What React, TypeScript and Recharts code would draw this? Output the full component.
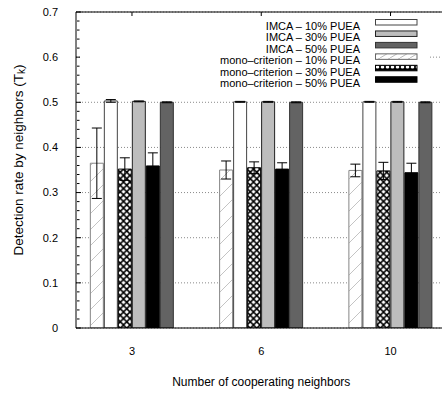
import { BarChart, Bar, XAxis, YAxis, CartesianGrid, ErrorBar, Legend, Label } from "recharts";

const categories = ["3", "6", "10"];

const mono10 = [0.365, 0.35, 0.349];
const imca10 = [0.503, 0.501, 0.501];
const mono30 = [0.352, 0.355, 0.348];
const imca30 = [0.502, 0.501, 0.501];
const mono50 = [0.359, 0.352, 0.344];
const imca50 = [0.5, 0.5, 0.5];

const mono10Err = [0.078, 0.02, 0.014];
const imca10Err = [0.003, 0.001, 0.001];
const mono30Err = [0.025, 0.013, 0.019];
const imca30Err = [0.001, 0.001, 0.001];
const mono50Err = [0.029, 0.014, 0.021];
const imca50Err = [0.001, 0.001, 0.001];

const yTicks = [0, 0.1, 0.2, 0.3, 0.4, 0.5, 0.6, 0.7];
const yMinorTicks = [
  0.02, 0.04, 0.06, 0.08, 0.12, 0.14, 0.16, 0.18, 0.22, 0.24, 0.26, 0.28,
  0.32, 0.34, 0.36, 0.38, 0.42, 0.44, 0.46, 0.48, 0.52, 0.54, 0.56, 0.58,
  0.62, 0.64, 0.66, 0.68,
];

const barOrder = ["mono10", "imca10", "mono30", "imca30", "mono50", "imca50"];
const legendOrder = ["imca10", "imca30", "imca50", "mono10", "mono30", "mono50"];
const seriesNames: Record<string, string> = {
  imca10: "IMCA – 10% PUEA",
  imca30: "IMCA – 30% PUEA",
  imca50: "IMCA – 50% PUEA",
  mono10: "mono–criterion – 10% PUEA",
  mono30: "mono–criterion – 30% PUEA",
  mono50: "mono–criterion – 50% PUEA",
};

const data = categories.map((c, i) => ({
  x: i,
  mono10: mono10[i],
  imca10: imca10[i],
  mono30: mono30[i],
  imca30: imca30[i],
  mono50: mono50[i],
  imca50: imca50[i],
  mono10Err: mono10Err[i],
  imca10Err: imca10Err[i],
  mono30Err: mono30Err[i],
  imca30Err: imca30Err[i],
  mono50Err: mono50Err[i],
  imca50Err: imca50Err[i],
}));

const styles: Record<string, { fill: string; stroke: string }> = {
  mono10: { fill: "url(#hatch)", stroke: "#858585" },
  imca10: { fill: "#ffffff", stroke: "#444444" },
  mono30: { fill: "url(#cross)", stroke: "#000000" },
  imca30: { fill: "#bdbdbd", stroke: "#222222" },
  mono50: { fill: "#000000", stroke: "#000000" },
  imca50: { fill: "#636363", stroke: "#333333" },
};

const legendStyles: Record<string, { fill: string; stroke: string }> = {
  ...styles,
  mono10: { fill: "url(#lhatch)", stroke: "#666666" },
  mono30: { fill: "url(#ldots)", stroke: "#000000" },
};

const font = "'Liberation Sans', Arial, Helvetica, sans-serif";
const xDomain = [-0.433, 2.433];
const noLabel = () => "";

function Patterns({ legend }: { legend?: boolean }) {
  return (
    <defs>
      {!legend && (
        <>
          <pattern id="hatch" patternUnits="userSpaceOnUse" width="16" height="16">
            <rect width="16" height="16" fill="#fff" />
            <path d="M0,16 L16,0 M-4,4 L4,-4 M12,20 L20,12" stroke="#c4c4c4" strokeWidth="1" />
          </pattern>
          <pattern id="cross" patternUnits="userSpaceOnUse" width="6.5" height="6.5">
            <rect width="6.5" height="6.5" fill="#fff" />
            <path d="M0,0 L6.5,6.5 M0,6.5 L6.5,0" stroke="#000" strokeWidth="1.6" />
          </pattern>
        </>
      )}
      {legend && (
        <>
          <pattern id="lhatch" patternUnits="userSpaceOnUse" width="10" height="6">
            <rect width="10" height="6" fill="#fff" />
            <path d="M0,6 L10,0" stroke="#bbb" strokeWidth="1" />
          </pattern>
          <pattern id="ldots" patternUnits="userSpaceOnUse" width="5" height="6">
            <rect width="5" height="6" fill="#000" />
            <ellipse cx="2.5" cy="3" rx="1.8" ry="1.5" fill="#fff" />
          </pattern>
        </>
      )}
    </defs>
  );
}

function renderLegend() {
  return (
    <svg width={350} height={74} style={{ display: "block", background: "#fff" }}>
      <Patterns legend />
      {legendOrder.map((key, i) => (
        <g key={key}>
          <text x={280} y={13.8 + i * 11.45} textAnchor="end" fontSize={11} fontFamily={font} fill="#000">
            {seriesNames[key]}
          </text>
          <rect x={295.5} y={3.5 + i * 11.45} width={41.5} height={5.5} fill={legendStyles[key].fill} stroke={legendStyles[key].stroke} strokeWidth={1} />
        </g>
      ))}
    </svg>
  );
}

function YTitle(props: any) {
  const { viewBox } = props;
  const cx = viewBox.x + 18;
  const cy = viewBox.y + viewBox.height / 2 - 10;
  return (
    <text x={cx} y={cy} transform={`rotate(-90 ${cx} ${cy})`} textAnchor="middle" dominantBaseline="central" fontSize={13.5} fontFamily={font} fill="#000">
      Detection rate by neighbors (T
      <tspan fontSize={10} dy={3}>k</tspan>
      <tspan dy={-3}>)</tspan>
    </text>
  );
}

export default function App() {
  return (
    <div style={{ position: "absolute", left: 0, top: 0, width: 442, height: 395, overflow: "hidden", background: "#fff" }}>
      <BarChart
        width={460}
        height={395}
        data={data}
        margin={{ top: 12, right: 13.5, bottom: 0, left: 0 }}
        barSize={13}
        barGap={1}
        style={{ fontFamily: font }}
      >
        <Patterns />
        <CartesianGrid vertical={false} stroke="#8a8a8a" strokeDasharray="1 2" />
        <XAxis
          dataKey="x"
          type="number"
          domain={xDomain}
          ticks={[0, 1, 2]}
          tickFormatter={(v: number) => categories[v]}
          height={67}
          tickSize={0}
          tickMargin={19}
          axisLine={{ stroke: "#000" }}
          tickLine={false}
          tick={{ fill: "#000", fontSize: 11 }}
          allowDataOverflow
        >
          <Label value="Number of cooperating neighbors" position="insideBottom" offset={9} fontSize={12} fill="#000" />
        </XAxis>
        <XAxis
          xAxisId="top"
          dataKey="x"
          type="number"
          orientation="top"
          domain={xDomain}
          ticks={[0, 1, 2]}
          tickFormatter={noLabel}
          mirror
          height={1}
          tickSize={4}
          axisLine={{ stroke: "#000" }}
          tickLine={{ stroke: "#000" }}
          allowDataOverflow
        />
        <YAxis
          domain={[0, 0.7]}
          ticks={yTicks}
          tickFormatter={(v: number) => String(v)}
          width={76}
          tickSize={0}
          tickMargin={18}
          axisLine={{ stroke: "#000" }}
          tickLine={false}
          tick={{ fill: "#000", fontSize: 11 }}
          allowDataOverflow
        >
          <Label content={YTitle} />
        </YAxis>
        <YAxis
          yAxisId="major"
          domain={[0, 0.7]}
          ticks={yTicks}
          tickFormatter={noLabel}
          mirror
          width={1}
          tickSize={5}
          axisLine={false}
          tickLine={{ stroke: "#000" }}
          allowDataOverflow
        />
        <YAxis
          yAxisId="minor"
          domain={[0, 0.7]}
          ticks={yMinorTicks}
          tickFormatter={noLabel}
          mirror
          width={1}
          tickSize={2.5}
          axisLine={false}
          tickLine={{ stroke: "#000" }}
          allowDataOverflow
        />
        {barOrder.map((key) => (
          <Bar
            key={key}
            dataKey={key}
            name={seriesNames[key]}
            fill={styles[key].fill}
            stroke={styles[key].stroke}
            strokeWidth={1}
            isAnimationActive={false}
          >
            <ErrorBar dataKey={`${key}Err`} width={5} stroke="#000" strokeWidth={1} />
          </Bar>
        ))}
        <Legend
          layout="horizontal"
          verticalAlign="middle"
          align="center"
          wrapperStyle={{ position: "absolute", left: 80, top: 16, width: 350, height: 74 }}
          content={renderLegend}
        />
      </BarChart>
    </div>
  );
}
